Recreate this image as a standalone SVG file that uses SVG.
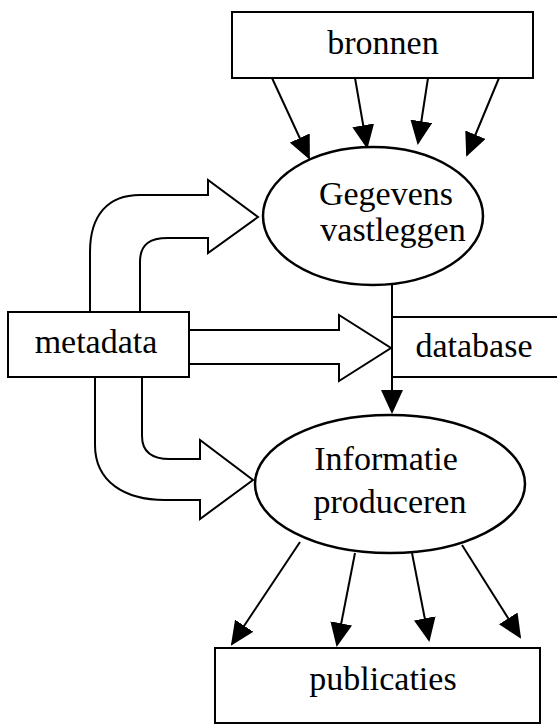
<svg xmlns="http://www.w3.org/2000/svg" width="557" height="726" viewBox="0 0 557 726">
<style>
.box{fill:#fff;stroke:#000;stroke-width:2}
.ell{fill:#fff;stroke:#000;stroke-width:2.5}
.blk{fill:#fff;stroke:#000;stroke-width:2;stroke-linejoin:miter}
.con{fill:none;stroke:#000;stroke-width:2}
.lbl{font-family:"Liberation Serif","Times New Roman",serif;font-size:34px;fill:#000;text-anchor:middle}
</style>
<defs>
<marker id="ah" viewBox="0 0 24 22" markerWidth="24" markerHeight="22" refX="22" refY="11" orient="auto" markerUnits="userSpaceOnUse">
<path d="M0,0 L24,11 L0,22 z" fill="#000"/>
</marker>
</defs>
<rect width="557" height="726" fill="#fff"/>
<g id="connectors">
<line class="con" x1="272" y1="78" x2="309" y2="158" marker-end="url(#ah)"/>
<line class="con" x1="355" y1="78" x2="367" y2="147" marker-end="url(#ah)"/>
<line class="con" x1="428" y1="78" x2="418" y2="143" marker-end="url(#ah)"/>
<line class="con" x1="499" y1="78" x2="467" y2="155" marker-end="url(#ah)"/>
<line class="con" x1="392" y1="285" x2="392" y2="412" marker-end="url(#ah)"/>
<line class="con" x1="300" y1="542" x2="232" y2="644" marker-end="url(#ah)"/>
<line class="con" x1="355" y1="553" x2="337" y2="645" marker-end="url(#ah)"/>
<line class="con" x1="412" y1="553" x2="429" y2="640" marker-end="url(#ah)"/>
<line class="con" x1="462" y1="545" x2="520" y2="637" marker-end="url(#ah)"/>
<path class="blk" d="M90,312 L90,252 C90,215 108,195 140,195 L208,195 L208,180 L258,217 L208,253 L208,238 L168,238 C150,238 140,244 140,262 L140,312"/>
<path class="blk" d="M190,330 L339,330 L339,315 L391,348 L339,381 L339,364 L190,364"/>
<path class="blk" d="M95,377 L95,445 C95,482 125,500 165,500 L200,500 L200,519 L253,480 L200,440 L200,459 L170,459 C152,459 142,452 142,436 L142,377"/>
</g>
<g id="bronnen">
<rect class="box" x="232" y="12" width="301" height="66"/>
<text class="lbl" x="383" y="54">bronnen</text>
</g>
<g id="gegevens">
<ellipse class="ell" cx="373" cy="216" rx="110" ry="69"/>
<text class="lbl" x="386" y="205">Gegevens</text>
<text class="lbl" x="393" y="241">vastleggen</text>
</g>
<g id="metadata">
<rect class="box" x="8" y="312" width="181" height="65"/>
<text class="lbl" x="96" y="353">metadata</text>
</g>
<g id="database">
<path class="con" d="M560,317 L392,317 L392,377 L560,377"/>
<text class="lbl" x="474" y="357">database</text>
</g>
<g id="informatie">
<ellipse class="ell" cx="390" cy="484" rx="135" ry="69"/>
<text class="lbl" x="386" y="470">Informatie</text>
<text class="lbl" x="390" y="513">produceren</text>
</g>
<g id="publicaties">
<rect class="box" x="215" y="648" width="325" height="75"/>
<text class="lbl" x="383" y="690">publicaties</text>
</g>
</svg>
